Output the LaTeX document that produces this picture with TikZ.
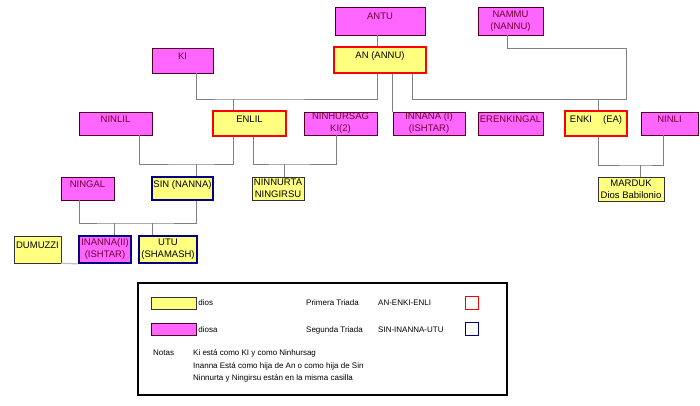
\documentclass[tikz,border=0pt]{standalone}
\usepackage{fontspec}
\setmainfont{Liberation Sans}
\usetikzlibrary{positioning}
\definecolor{rosa}{RGB}{255,102,255}
\definecolor{amarillo}{RGB}{255,255,128}
\definecolor{granate}{RGB}{110,0,50}
\definecolor{marino}{RGB}{0,0,128}
\definecolor{gris}{RGB}{128,128,128}

\begin{document}
\begin{tikzpicture}[x=1pt, y=-1pt,
  caja/.style={rectangle, draw, inner sep=1pt, align=center, font=\fontsize{9.5}{12}\selectfont},
  dios/.style={caja, fill=amarillo, draw=black!80, text=black},
  diosa/.style={caja, fill=rosa, draw=granate!70!black, text=granate},
  simple/.style={text depth=9pt},
  primera/.style={draw=red, line width=1.8pt},
  segunda/.style={draw=marino, line width=1.8pt},
  rama/.style={draw=gris, line width=0.7pt},
  nota/.style={font=\fontsize{8}{12.5}\selectfont, anchor=west, inner sep=0pt}
]
\useasboundingbox (0,0) rectangle (700,406);

% Dioses
\node[diosa, simple, minimum width=90pt, minimum height=28pt] (antu) at (380,21) {ANTU};
\node[diosa, minimum width=65pt, minimum height=28pt] (nammu) at (510.5,21) {NAMMU\\(NANNU)};
\node[dios, simple, primera, minimum width=92pt, minimum height=26pt] (an) at (380,60) {AN (ANNU)};
\node[diosa, simple, minimum width=61pt, minimum height=25pt] (ki) at (182.5,60.5) {KI};

\node[diosa, simple, minimum width=73pt, minimum height=23pt] (ninlil) at (115.5,123.5) {NINLIL};
\node[dios, simple, primera, minimum width=73pt, minimum height=25pt] (enlil) at (249.5,123.5) {ENLIL};
\node[diosa, minimum width=73pt, minimum height=23pt] (ninhursag) at (340.5,123.5) {NINHURSAG\\KI(2)};
\node[diosa, minimum width=72pt, minimum height=23pt] (innana) at (429,123.5) {INNANA (I)\\(ISHTAR)};
\node[diosa, simple, minimum width=65pt, minimum height=23pt] (erenkingal) at (510.5,123.5) {ERENKINGAL};
\node[dios, simple, primera, minimum width=62pt, minimum height=25pt] (enki) at (596,123.5) {ENKI\hspace{11pt}(EA)};
\node[diosa, simple, minimum width=57pt, minimum height=23pt] (ninli) at (669.5,123.5) {NINLI};

\node[diosa, simple, minimum width=53pt, minimum height=23pt] (ningal) at (87.5,188.5) {NINGAL};
\node[dios, simple, segunda, minimum width=61pt, minimum height=23pt] (sin) at (182.5,188.5) {SIN (NANNA)};
\node[dios, minimum width=52pt, minimum height=23pt] (ninnurta) at (278,188.5) {NINNURTA\\NINGIRSU};
\node[dios, minimum width=66pt, minimum height=24pt] (marduk) at (631,189) {MARDUK\\Dios Babilonio};

\node[dios, simple, minimum width=47pt, minimum height=27pt] (dumuzzi) at (37.5,249.5) {DUMUZZI};
\node[diosa, segunda, minimum width=52pt, minimum height=27pt] (inanna) at (105,249.5) {INANNA(II)\\(ISHTAR)};
\node[dios, segunda, minimum width=58pt, minimum height=27pt] (utu) at (168,249.5) {UTU\\(SHAMASH)};

% Ramas
\coordinate (nudoAn) at (233,99);
\coordinate (esqEnki) at (626,99);
\draw[rama] ([xshift=-3pt]antu.south) -- ([xshift=-3pt]an.north);
\draw[rama] ([xshift=13.5pt]ki.south) |- (nudoAn) -| ([xshift=-3pt]an.south);
\draw[rama] (nudoAn) -- ([xshift=-16.5pt]enlil.north);
\draw[rama] (an.south -| innana.north west) -- (innana.north west);
\draw[rama] ([xshift=32pt]an.south) |- (esqEnki) |- ([shift={(-3.5pt,-13pt)}]nammu.south) -- ([xshift=-3.5pt]nammu.south);
\draw[rama] ([xshift=2pt]enki.north) |- (esqEnki);

\coordinate (nudoSin) at (196,164);
\draw[rama] ([xshift=23.5pt]ninlil.south) |- (nudoSin) -| ([xshift=-16.5pt]enlil.south);
\draw[rama] (nudoSin) -- ([xshift=13.5pt]sin.north);
\coordinate (nudoNinnurta) at (284,164);
\draw[rama] ([xshift=3.5pt]enlil.south) |- (nudoNinnurta) -| ([xshift=-4.5pt]ninhursag.south);
\draw[rama] (nudoNinnurta) -- ([xshift=6pt]ninnurta.north);
\coordinate (nudoMarduk) at (640,165);
\draw[rama] ([xshift=2pt]enki.south) |- (nudoMarduk) -| ([xshift=-6.5pt]ninli.south);
\draw[rama] (nudoMarduk) -- ([xshift=9pt]marduk.north);

\coordinate (nudoInanna) at (114,223);
\coordinate (nudoUtu) at (152,223);
\draw[rama] ([xshift=-8.5pt]ningal.south) |- (nudoInanna) -- (nudoUtu) -| ([xshift=13.5pt]sin.south);
\draw[rama] (nudoInanna) -- (inanna.north -| nudoInanna);
\draw[rama] (nudoUtu) -- (utu.north -| nudoUtu);
\draw[rama, draw=gris!50, line width=1.2pt] (dumuzzi.south east) -- (inanna.south west);

% Leyenda
\node[draw=black, line width=1.2pt, minimum width=369pt, minimum height=112pt, inner sep=0pt] (leyenda) at (322.5,339) {};
\node[dios, minimum width=45pt, minimum height=12pt, inner sep=0pt] (muestraDios) at (173.5,303) {};
\node[diosa, minimum width=45pt, minimum height=12pt, inner sep=0pt] (muestraDiosa) at (173.5,329.5) {};
\node[nota, right=2pt of muestraDios] (tDios) {dios};
\node[nota, right=2pt of muestraDiosa] (tDiosa) {diosa};
\node[nota] (primeraTriada) at (306,303) {Primera Triada};
\node[nota] (triadaUno) at (378,303) {AN-ENKI-ENLI};
\node[primera, minimum size=13pt, inner sep=0pt] (cuadroRojo) at (472,303) {};
\node[nota] (segundaTriada) at (306,330) {Segunda Triada};
\node[nota] (triadaDos) at (378,330) {SIN-INANNA-UTU};
\node[segunda, minimum size=13pt, inner sep=0pt] (cuadroAzul) at (472,329) {};
\node[nota] (notas) at (153,353) {Notas};
\node[nota] (notaKi) at (193,353) {Ki está como KI y como Ninhursag};
\node[nota] (notaInanna) at (193,366) {Inanna Está como hija de An o como hija de Sin};
\node[nota] (notaNinnurta) at (193,378) {Ninnurta y Ningirsu están en la misma casilla};

\end{tikzpicture}
\end{document}
